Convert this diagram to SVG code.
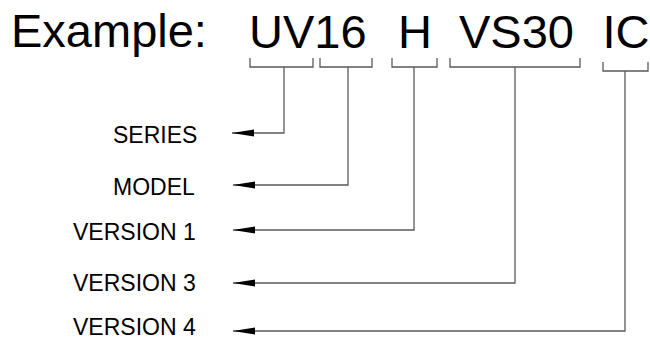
<svg xmlns="http://www.w3.org/2000/svg" width="650" height="340" viewBox="0 0 650 340">
<defs>
<style>
.title{font-family:"Liberation Sans",Arial,sans-serif;font-size:47px;fill:#000}
.lbl{font-family:"Liberation Sans",Arial,sans-serif;font-size:23px;fill:#000}
.ln{fill:none;stroke:#5a5a5a;stroke-width:1.3}
</style>
<marker id="ah" markerUnits="userSpaceOnUse" markerWidth="24" markerHeight="10" refX="22" refY="4" orient="auto">
<path d="M0,0.5 L22,4 L0,7.5 Z" fill="#000"/>
</marker>
</defs>
<rect width="650" height="340" fill="#fff"/>
<g id="title">
<text class="title" x="11" y="47">Example:</text>
<text class="title" x="249" y="48">UV16</text>
<text class="title" x="398" y="48">H</text>
<text class="title" x="459" y="48">VS30</text>
<text class="title" x="602.5" y="48">IC</text>
</g>
<g id="series"><text class="lbl" x="113" y="143">SERIES</text></g>
<g id="model"><text class="lbl" x="113" y="195">MODEL</text></g>
<g id="version1"><text class="lbl" x="73" y="240">VERSION 1</text></g>
<g id="version3"><text class="lbl" x="73" y="291">VERSION 3</text></g>
<g id="version4"><text class="lbl" x="73" y="335">VERSION 4</text></g>
<g id="connectors">
<path class="ln" d="M250,58 V67 H313 V58"/>
<path class="ln" d="M320,58 V67 H372 V58"/>
<path class="ln" d="M392,58 V67 H437 V58"/>
<path class="ln" d="M450,58 V67 H580 V58"/>
<path class="ln" d="M603,62 V71 H648 V62"/>
<path class="ln" d="M284,67 V133 H232" marker-end="url(#ah)"/>
<path class="ln" d="M348,67 V185 H233" marker-end="url(#ah)"/>
<path class="ln" d="M414,67 V230 H233" marker-end="url(#ah)"/>
<path class="ln" d="M515,67 V283 H233" marker-end="url(#ah)"/>
<path class="ln" d="M625,71 V331 H233" marker-end="url(#ah)"/>
</g>
</svg>
